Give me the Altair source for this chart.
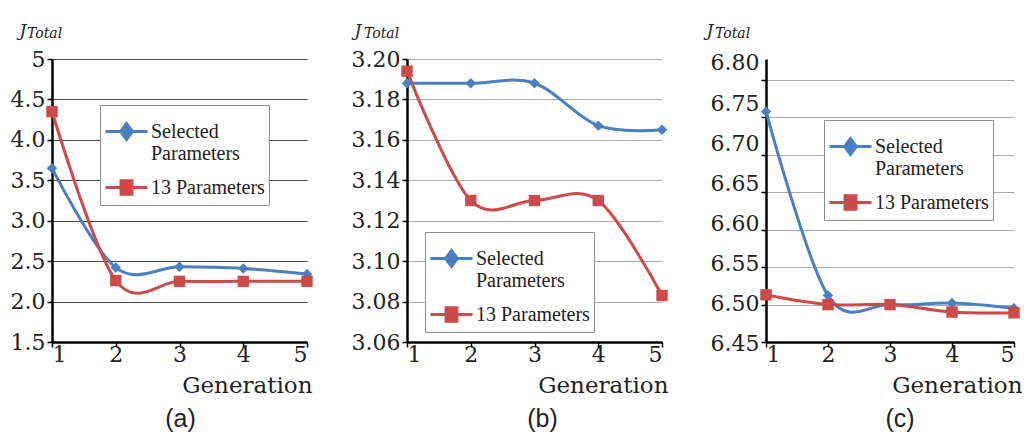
import altair as alt
import pandas as pd

# ---------------- data ----------------
generations = [1, 2, 3, 4, 5]
series_names = ["Selected Parameters", "13 Parameters"]

a_selected = [3.65, 2.42, 2.43, 2.41, 2.34]
a_thirteen = [4.35, 2.26, 2.25, 2.25, 2.25]
a_ticks = [1.5, 2.0, 2.5, 3.0, 3.5, 4.0, 4.5, 5.0]

b_selected = [3.188, 3.188, 3.188, 3.167, 3.165]
b_thirteen = [3.194, 3.130, 3.130, 3.130, 3.083]
b_ticks = [3.06, 3.08, 3.10, 3.12, 3.14, 3.16, 3.18, 3.20]

c_selected = [6.758, 6.512, 6.500, 6.502, 6.495]
c_thirteen = [6.513, 6.500, 6.500, 6.490, 6.489]
c_ticks = [6.45, 6.50, 6.55, 6.60, 6.65, 6.70, 6.75, 6.80]

captions = ["(a)", "(b)", "(c)"]

# ---------------- style ----------------
BLUE = "#4a7fc1"
RED = "#cc4a4a"
SERIF = "DejaVu Serif"
LEG_FONT = "Liberation Serif"
SANS = "Liberation Sans"
PATH_DIAMOND = "M-1,0H1M0,-0.38L0.28,0L0,0.38L-0.28,0Z"
PATH_SQUARE = "M-1,0H1M-0.26,-0.32H0.26V0.32H-0.26Z"
H = 283


def panel(sel, thirteen, ydom, yticks, label_expr, grid_color, W,
          jx, tot_dx, lx, ly, gen_dx, caption, cap_dx, label_offset=0):
    df = pd.DataFrame({
        "gen": generations * 2,
        "val": sel + thirteen,
        "series": [series_names[0]] * 5 + [series_names[1]] * 5,
    })
    x = alt.X("gen:Q",
              scale=alt.Scale(domain=[1, 5], nice=False, zero=False),
              axis=alt.Axis(values=generations, format="d", grid=False,
                            title="Generation", titleAlign="right",
                            titleX=W + gen_dx, titleY=50,
                            titleBaseline="alphabetic", titleFont=SERIF,
                            titleFontSize=23, titleFontWeight="normal",
                            titleColor="#222",
                            labelFont=SERIF, labelFontSize=22,
                            labelColor="#222", labelPadding=-3,
                            tickSize=5, tickColor="black", tickWidth=1.5,
                            domainColor="black", domainWidth=2.5))
    y = alt.Y("val:Q",
              scale=alt.Scale(domain=ydom, nice=False, zero=False),
              axis=alt.Axis(values=yticks, labelExpr=label_expr,
                            labelOffset=label_offset,
                            grid=True, gridColor=grid_color, gridWidth=1,
                            title="J", titleAngle=0, titleAlign="left",
                            titleBaseline="alphabetic", titleX=jx,
                            titleY=-24, titleFont=SERIF,
                            titleFontStyle="italic", titleFontSize=17,
                            titleFontWeight="normal", titleColor="#222",
                            labelFont=SERIF, labelFontSize=22,
                            labelColor="#222", labelPadding=2,
                            tickSize=5, tickColor="black", tickWidth=1.5,
                            domainColor="black", domainWidth=2.5))
    base = alt.Chart(df)
    sel_f = alt.datum.series == series_names[0]
    thr_f = alt.datum.series == series_names[1]
    line_sel = base.transform_filter(sel_f).mark_line(
        interpolate="cardinal", color=BLUE, strokeWidth=3).encode(x=x, y=y)
    pt_sel = base.transform_filter(sel_f).mark_point(
        shape="diamond", filled=True, size=110, color=BLUE,
        opacity=1).encode(x=x, y=y)
    line_thr = base.transform_filter(thr_f).mark_line(
        interpolate="cardinal", color=RED, strokeWidth=3).encode(x=x, y=y)
    pt_thr = base.transform_filter(thr_f).mark_point(
        shape="square", filled=True, size=130, color=RED,
        opacity=1).encode(x=x, y=y)

    leg = alt.Legend(
        title=None, orient="none", legendX=lx, legendY=ly,
        fillColor="white", strokeColor="#8c8c8c", padding=4,
        labelFont=LEG_FONT, labelFontSize=20, labelColor="#222",
        labelExpr="datum.value == 'Selected Parameters' ? "
                  "['\u00a0\u00a0\u00a0Selected', 'Parameters'] : datum.label",
        symbolSize=1764, symbolStrokeWidth=3, rowPadding=1,
        labelOffset=2, labelLimit=220)
    legend_layer = base.transform_filter("false").mark_point(
        filled=True, opacity=1, strokeWidth=3).encode(
        fill=alt.Fill("series:N", scale=alt.Scale(domain=series_names,
                                                  range=[BLUE, RED]),
                      legend=leg),
        stroke=alt.Stroke("series:N", scale=alt.Scale(domain=series_names,
                                                      range=[BLUE, RED]),
                          legend=leg),
        shape=alt.Shape("series:N",
                        scale=alt.Scale(domain=series_names,
                                        range=[PATH_DIAMOND, PATH_SQUARE]),
                        legend=leg),
    )
    layer = alt.layer(line_sel, line_thr, pt_sel, pt_thr, legend_layer).properties(
        width=W, height=H,
        title=alt.TitleParams("Total", anchor="start", frame="group",
                              font=SERIF, fontStyle="italic", fontSize=14,
                              fontWeight="normal", color="#222",
                              dx=tot_dx, dy=31, offset=0,
                              baseline="alphabetic"))
    return alt.vconcat(layer, title=alt.TitleParams(
        caption, orient="bottom", anchor="middle", font=SANS, fontSize=25,
        fontWeight="normal", color="#222", dx=cap_dx, offset=10))


pa = panel(a_selected, a_thirteen, [1.5, 5.0], a_ticks,
           "datum.value == 5 ? '5' : format(datum.value, '.1f')", "#444",
           255, -33, -25, 48, 46, 5, captions[0], 19)
pb = panel(b_selected, b_thirteen, [3.06, 3.20], b_ticks,
           "format(datum.value, '.2f')", "#aaa",
           255, -53, -43, 18, 173, 6, captions[1], 33)
pc = panel(c_selected, c_thirteen, [6.45, 6.828], c_ticks,
           "format(datum.value, '.2f')", "#aaa",
           248, -60, -51, 58, 61, 8, captions[2], 36,
           label_offset=alt.ExprRef("(6.80 - datum.value) * 54 - 17"))

chart = alt.hconcat(pa, pb, pc, spacing=38).resolve_scale(
    fill="independent", stroke="independent", shape="independent"
).resolve_legend(
    fill="independent", stroke="independent", shape="independent"
).properties(
    padding={"left": 2, "top": 13, "right": 0, "bottom": 0}
).configure_view(stroke=None)

chart.save("out.html", embed_options={"renderer": "svg", "actions": False})
